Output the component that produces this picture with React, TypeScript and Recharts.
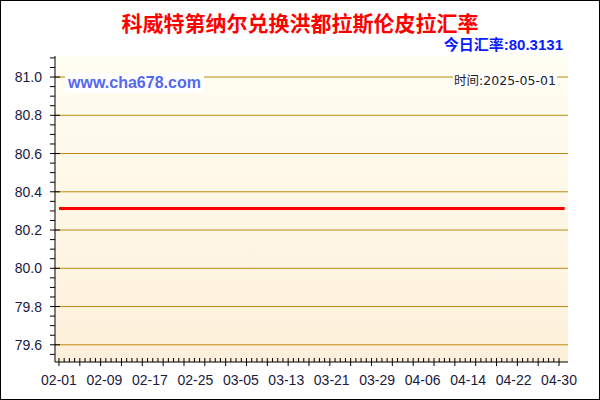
import React from 'react';
import { LineChart, Line, XAxis, YAxis, CartesianGrid, ReferenceLine } from 'recharts';

// tick labels
const xTickLabels = ['02-01', '02-09', '02-17', '02-25', '03-05', '03-13', '03-21', '03-29', '04-06', '04-14', '04-22', '04-30'];
const yTickValues = [79.6, 79.8, 80.0, 80.2, 80.4, 80.6, 80.8, 81.0];

// the rate stays flat for the whole period
const seriesDates = ['02-01', '02-09', '02-17', '02-25', '03-05', '03-13', '03-21', '03-29', '04-06', '04-14', '04-22', '04-30', '05-01'];
const seriesRates = [80.3131, 80.3131, 80.3131, 80.3131, 80.3131, 80.3131, 80.3131, 80.3131, 80.3131, 80.3131, 80.3131, 80.3131, 80.3131];

const todayRate = '80.3131';
const updateDate = '2025-05-01';

const dayOf = (md: string) => {
  const [m, d] = md.split('-').map(Number);
  return (Date.UTC(2025, m - 1, d) - Date.UTC(2025, 1, 1)) / 86400000;
};

const chartData = seriesDates.map((d, i) => ({ day: dayOf(d), rate: seriesRates[i] }));
const labelDays = xTickLabels.map(dayOf);

// decorative axis marks: 96 small steps along x, 0.05 steps along y
const X_STEP = 88 / 96;
const xMarks = Array.from({ length: 97 }, (_, i) => i * X_STEP);
const yMarks = Array.from({ length: 32 }, (_, i) => Math.round((79.55 + i * 0.05) * 100) / 100);
const bottomTicks = Array.from(new Set([...xMarks, ...labelDays].map(v => Math.round(v * 1e6) / 1e6))).sort((a, b) => a - b);

const X_DOMAIN: [number, number] = [-0.7, 89.58];
const Y_DOMAIN: [number, number] = [79.51, 81.11];

const LABEL_COLOR = '#1a1a40';
const GRID_COLOR = '#bb8a14';

const markIndex = (v: number) => {
  const k = Math.round(v / X_STEP);
  return Math.abs(v - k * X_STEP) < 1e-4 ? k : -1;
};
const isMajorY = (v: number) => yTickValues.some(t => Math.abs(t - v) < 1e-6);

const BottomTick = (props: any) => {
  const { x, y, payload } = props;
  const v = payload.value as number;
  const k = markIndex(v);
  const li = labelDays.findIndex(d => Math.abs(d - v) < 1e-4);
  return (
    <g>
      {k >= 0 && <line x1={x} x2={x} y1={y - 4} y2={k % 4 === 0 ? y + 4 : y} stroke="#000" />}
      {li >= 0 && (
        <text x={x} y={y + 23} textAnchor="middle" fontSize={14} fill={LABEL_COLOR} fontFamily="'Liberation Sans', Arial, sans-serif">
          {xTickLabels[li]}
        </text>
      )}
    </g>
  );
};

const TopTick = (props: any) => {
  const { x, y } = props;
  return <line x1={x} x2={x} y1={y} y2={y + 4} stroke="#000" />;
};

const LeftTick = (props: any) => {
  const { x, y, payload } = props;
  const v = payload.value as number;
  const major = isMajorY(v);
  return (
    <g>
      <line x1={x - 5} x2={major ? x + 5 : x} y1={y} y2={y} stroke="#000" />
      {major && (
        <text x={x - 13} y={y + 5} textAnchor="end" fontSize={14} fill={LABEL_COLOR} fontFamily="'Liberation Sans', Arial, sans-serif">
          {v.toFixed(1)}
        </text>
      )}
    </g>
  );
};

const RightTick = (props: any) => {
  const { x, y, payload } = props;
  const major = isMajorY(payload.value);
  return <line x1={major ? x - 5 : x - 4} x2={x} y1={y} y2={y} stroke="#000" />;
};

export default function App() {
  return (
    <div style={{ position: 'fixed', left: 0, top: 0, width: 600, height: 400, background: '#fff', overflow: 'hidden' }}>
      <LineChart width={600} height={400} data={chartData} margin={{ top: 56, right: 32, bottom: 0, left: 0 }}>
        <defs>
          <linearGradient id="plotBg" x1="0" y1="0" x2="0" y2="1">
            <stop offset="0%" stopColor="#fffef2" />
            <stop offset="100%" stopColor="#fdf0da" />
          </linearGradient>
        </defs>
        <CartesianGrid xAxisId="main" yAxisId="main" horizontal={false} vertical={false} fill="url(#plotBg)" fillOpacity={1} />
        <XAxis
          xAxisId="main"
          dataKey="day"
          type="number"
          domain={X_DOMAIN}
          allowDataOverflow
          ticks={bottomTicks}
          interval={0}
          height={38}
          tickSize={0}
          tickMargin={0}
          tickLine={false}
          tick={<BottomTick />}
          axisLine={{ stroke: '#000' }}
        />
        <XAxis
          xAxisId="top"
          orientation="top"
          type="number"
          domain={X_DOMAIN}
          allowDataOverflow
          ticks={xMarks}
          interval={0}
          height={0}
          tickSize={0}
          tickMargin={0}
          tickLine={false}
          tick={<TopTick />}
          axisLine={{ stroke: '#000' }}
        />
        <YAxis
          yAxisId="main"
          type="number"
          domain={Y_DOMAIN}
          allowDataOverflow
          ticks={yMarks}
          interval={0}
          width={55}
          tickSize={0}
          tickMargin={0}
          tickLine={false}
          tick={<LeftTick />}
          axisLine={{ stroke: '#000' }}
        />
        <YAxis
          yAxisId="right"
          orientation="right"
          type="number"
          domain={Y_DOMAIN}
          allowDataOverflow
          ticks={yMarks}
          interval={0}
          width={0}
          tickSize={0}
          tickMargin={0}
          tickLine={false}
          tick={<RightTick />}
          axisLine={{ stroke: '#000' }}
        />
        {yTickValues.map(v => (
          <ReferenceLine key={v} xAxisId="main" yAxisId="main" y={v} stroke={GRID_COLOR} strokeWidth={1} />
        ))}
        <Line
          xAxisId="main"
          yAxisId="main"
          type="linear"
          dataKey="rate"
          stroke="#ff0000"
          strokeWidth={3}
          dot={false}
          activeDot={false}
          isAnimationActive={false}
        />
      </LineChart>

      <div style={{ position: 'absolute', left: 0, top: 11, width: 600, height: 22, textAlign: 'center', color: '#ff0000', fontWeight: 'bold', fontSize: 21, lineHeight: '22px', fontFamily: "'Noto Sans CJK SC', sans-serif", whiteSpace: 'nowrap' }}>
        科威特第纳尔兑换洪都拉斯伦皮拉汇率
      </div>
      <div style={{ position: 'absolute', right: 37, top: 37, height: 15, color: '#0a1cff', fontWeight: 'bold', fontSize: 15, lineHeight: '15px', fontFamily: "'Liberation Sans', 'Noto Sans CJK SC', sans-serif", whiteSpace: 'nowrap' }}>
        今日汇率:{todayRate}
      </div>
      <div style={{ position: 'absolute', left: 65, top: 73, width: 139, height: 20, background: '#fff', color: '#5468f0', fontWeight: 'bold', fontSize: 16, lineHeight: '20px', fontFamily: "'Liberation Sans', Arial, sans-serif", textAlign: 'center' }}>
        www.cha678.com
      </div>
      <div style={{ position: 'absolute', left: 453, top: 74, width: 104, height: 13, background: '#fff', color: '#222', fontSize: 12.5, lineHeight: '13px', fontFamily: "'DejaVu Sans', 'Noto Sans CJK SC', sans-serif", textAlign: 'center', whiteSpace: 'nowrap' }}>
        时间:{updateDate}
      </div>
      <div style={{ position: 'absolute', left: 0, top: 0, width: 600, height: 400, boxSizing: 'border-box', border: '1px solid #000', pointerEvents: 'none' }} />
    </div>
  );
}
